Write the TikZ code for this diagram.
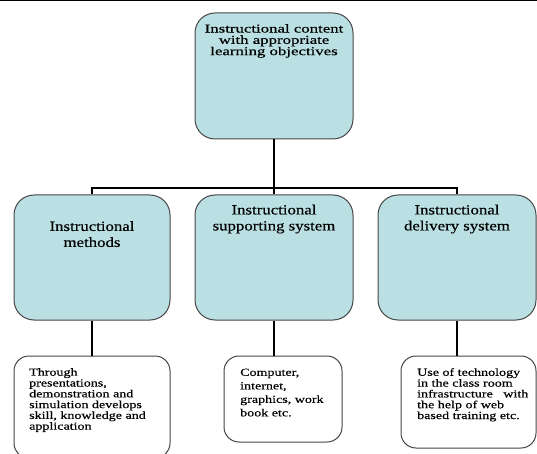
\documentclass[tikz,border=0pt]{standalone}
\usepackage{fontspec}
\setmainfont{Liberation Serif}
\newfontfamily\headfont[FakeStretch=1.4,FakeBold=0.4]{Liberation Serif}
\newfontfamily\midfont[FakeStretch=1.2,FakeBold=0.4]{Liberation Serif}
\newfontfamily\notefont[FakeStretch=1.3,FakeBold=0.4]{Liberation Serif}
\usetikzlibrary{positioning}
\definecolor{boxblue}{RGB}{187,224,227}
\definecolor{edgegray}{RGB}{70,70,70}
\tikzset{
blockbox/.style={
  draw=edgegray, line width=1pt, fill=boxblue,
  rounded corners=20pt, inner sep=0pt,
  minimum width=158pt, minimum height=125pt
},
notebox/.style={draw=edgegray, line width=1pt, fill=white, rounded corners=15pt, inner sep=0pt},
headtext/.style={align=center, inner sep=0pt, anchor=north, font=\headfont\fontsize{12pt}{11.3pt}\selectfont},
midtext/.style={align=center, inner sep=0pt, anchor=north, font=\midfont\fontsize{14pt}{16pt}\selectfont},
notetext/.style={align=left, inner sep=0pt, anchor=north west, font=\notefont\fontsize{10.8pt}{10.8pt}\selectfont},
trunk/.style={line width=2.5pt, black},
branch/.style={line width=1.3pt, black},
}

\begin{document}
\begin{tikzpicture}[x=1pt,y=-1pt]
            \useasboundingbox (0,0) rectangle (537,454);
            \draw[line width=1.5pt] (0,0.75) -- (537,0.75);

            % top block
            \node[blockbox, minimum height=126pt] (content) at (274,76) {};
            \node[headtext] (contenttxt) at (274,24) {Instructional content\\with appropriate\\learning objectives};

            % second row
            \node[blockbox, minimum width=156pt] (methods) at (92,257.5) {};
            \node[blockbox] (support) at (274,257.5) {};
            \node[blockbox] (delivery) at (457,257.5) {};
            \node[midtext] (methodstxt) at (92,221) {Instructional\\methods};
            \node[midtext] (supporttxt) at (274,204.5) {Instructional\\supporting system};
            \node[midtext] (deliverytxt) at (457,204.5) {Instructional\\delivery system};

            % notes
            \node[notebox, minimum width=156pt, minimum height=102pt] (methodsnote) at (92,407) {};
            \node[notebox, minimum width=118pt, minimum height=86pt] (supportnote) at (283,399) {};
            \node[notebox, minimum width=135pt, minimum height=92pt] (deliverynote) at (468.5,402) {};
            \node[notetext] (methodsnotetxt) at (29,368) {Through\\presentations,\\demonstration and\\simulation develops\\skill, knowledge and\\application};
            \node[notetext, font=\notefont\fontsize{10.8pt}{13.5pt}\selectfont] (supportnotetxt) at (240,368.5) {Computer,\\internet,\\graphics, work\\book etc.};
            \node[notetext] (deliverynotetxt) at (417,368) {Use of technology\\in the class room\\infrastructure\ \ \ with\\the help of web\\based training etc.};

            % connectors
            \coordinate (bar) at (274,188);
            \draw[trunk] (content.south) -- (support.north);
            \draw[trunk] (methods.north) -- (methods.north |- bar) -- (delivery.north |- bar) -- (delivery.north);
            \draw[branch] (methods.south) -- (methodsnote.north -| methods.south);
            \draw[branch] (support.south) -- (supportnote.north -| support.south);
            \draw[branch] (delivery.south) -- (deliverynote.north -| delivery.south);
\end{tikzpicture}
\end{document}
